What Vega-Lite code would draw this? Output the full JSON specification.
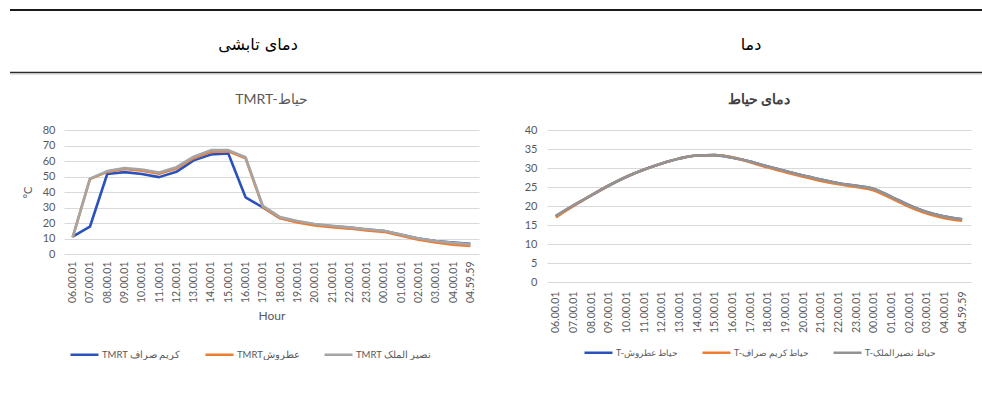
{
  "$schema": "https://vega.github.io/schema/vega-lite/v6.json",
  "background": "white",
  "padding": {"left": 8, "top": 0, "right": 0, "bottom": 0},
  "config": {
    "view": {"stroke": null},
    "font": "Lato",
    "axis": {"labelColor": "#595959", "titleColor": "#595959", "gridColor": "#D9D9D9", "labelFontSize": 11, "titleFontWeight": "normal", "titleFontSize": 12},
    "legend": {"labelColor": "#595959", "labelFontSize": 9.5, "symbolType": "stroke", "symbolSize": 784, "symbolStrokeWidth": 2.5, "labelOffset": 2, "columnPadding": 19, "direction": "horizontal", "title": null, "padding": 0}
  },
  "spacing": 18,
  "vconcat": [
    {
      "width": 920,
      "height": 75,
      "resolve": {"scale": {"x": "independent"}, "axis": {"x": "independent"}},
      "layer": [
        {
          "data": {"values": [{"label": "دمای تابشی", "col": "radiant"}, {"label": "دما", "col": "air"}]},
          "mark": {"type": "text", "font": "DejaVu Sans", "fontSize": 16, "fontWeight": "normal", "color": "#000000", "baseline": "middle", "align": "center"},
          "encoding": {
            "x": {"field": "col", "type": "nominal", "scale": {"type": "point", "padding": 0, "domain": ["radiant", "air"], "range": [194, 687]}, "axis": null},
            "y": {"datum": 45, "type": "quantitative", "scale": {"domain": [75, 0], "nice": false, "zero": false}, "axis": null},
            "text": {"field": "label"}
          }
        },
        {
          "data": {"values": [{"line": "top"}]},
          "mark": {"type": "rule", "color": "#1a1a1a", "strokeWidth": 2.2},
          "encoding": {
            "x": {"datum": 0, "type": "quantitative", "scale": {"domain": [0, 974], "range": [-54, 920], "nice": false, "zero": false}, "axis": null},
            "x2": {"datum": 974},
            "y": {"datum": 10, "type": "quantitative", "axis": null}
          }
        },
        {
          "data": {"values": [{"line": "bottom"}]},
          "mark": {"type": "rule", "color": "#2a2a2a", "strokeWidth": 1.3},
          "encoding": {
            "x": {"datum": 0, "type": "quantitative", "scale": {"domain": [0, 974], "range": [-54, 920], "nice": false, "zero": false}, "axis": null},
            "x2": {"datum": 974},
            "y": {"datum": 72.5, "type": "quantitative", "axis": null}
          }
        },
        {
          "data": {"values": [{"line": "bottom2"}]},
          "mark": {"type": "rule", "color": "#c4c4c4", "strokeWidth": 1},
          "encoding": {
            "x": {"datum": 0, "type": "quantitative", "scale": {"domain": [0, 974], "range": [-54, 920], "nice": false, "zero": false}, "axis": null},
            "x2": {"datum": 974},
            "y": {"datum": 74, "type": "quantitative", "axis": null}
          }
        }
      ]
    },
    {
      "spacing": 45,
      "resolve": {"scale": {"color": "independent"}, "legend": {"color": "independent"}},
      "hconcat": [
        {
          "width": 415,
          "height": 124,
          "title": {"text": "TMRT-حیاط", "fontSize": 14, "fontWeight": "normal", "color": "#595959", "offset": 3, "baseline": "bottom", "font": "Lato"},
          "data": {"values": [
            {"hour": "06.00.01", "series": "TMRT کریم صراف", "value": 11.2},
            {"hour": "07.00.01", "series": "TMRT کریم صراف", "value": 17.6},
            {"hour": "08.00.01", "series": "TMRT کریم صراف", "value": 51.6},
            {"hour": "09.00.01", "series": "TMRT کریم صراف", "value": 52.8},
            {"hour": "10.00.01", "series": "TMRT کریم صراف", "value": 51.6},
            {"hour": "11.00.01", "series": "TMRT کریم صراف", "value": 49.6},
            {"hour": "12.00.01", "series": "TMRT کریم صراف", "value": 53.0},
            {"hour": "13.00.01", "series": "TMRT کریم صراف", "value": 60.4},
            {"hour": "14.00.01", "series": "TMRT کریم صراف", "value": 64.2},
            {"hour": "15.00.01", "series": "TMRT کریم صراف", "value": 64.8},
            {"hour": "16.00.01", "series": "TMRT کریم صراف", "value": 36.6},
            {"hour": "17.00.01", "series": "TMRT کریم صراف", "value": 30.0},
            {"hour": "18.00.01", "series": "TMRT کریم صراف", "value": 23.2},
            {"hour": "19.00.01", "series": "TMRT کریم صراف", "value": 20.8},
            {"hour": "20.00.01", "series": "TMRT کریم صراف", "value": 19.0},
            {"hour": "21.00.01", "series": "TMRT کریم صراف", "value": 17.8},
            {"hour": "22.00.01", "series": "TMRT کریم صراف", "value": 17.0},
            {"hour": "23.00.01", "series": "TMRT کریم صراف", "value": 15.8},
            {"hour": "00.00.01", "series": "TMRT کریم صراف", "value": 14.8},
            {"hour": "01.00.01", "series": "TMRT کریم صراف", "value": 12.4},
            {"hour": "02.00.01", "series": "TMRT کریم صراف", "value": 10.0},
            {"hour": "03.00.01", "series": "TMRT کریم صراف", "value": 8.4},
            {"hour": "04.00.01", "series": "TMRT کریم صراف", "value": 7.4},
            {"hour": "04.59.59", "series": "TMRT کریم صراف", "value": 6.6},
            {"hour": "06.00.01", "series": "TMRTعطروش", "value": 10.8},
            {"hour": "07.00.01", "series": "TMRTعطروش", "value": 48.3},
            {"hour": "08.00.01", "series": "TMRTعطروش", "value": 53.0},
            {"hour": "09.00.01", "series": "TMRTعطروش", "value": 54.8},
            {"hour": "10.00.01", "series": "TMRTعطروش", "value": 53.8},
            {"hour": "11.00.01", "series": "TMRTعطروش", "value": 51.8},
            {"hour": "12.00.01", "series": "TMRTعطروش", "value": 55.2},
            {"hour": "13.00.01", "series": "TMRTعطروش", "value": 61.8},
            {"hour": "14.00.01", "series": "TMRTعطروش", "value": 66.0},
            {"hour": "15.00.01", "series": "TMRTعطروش", "value": 66.2},
            {"hour": "16.00.01", "series": "TMRTعطروش", "value": 61.8},
            {"hour": "17.00.01", "series": "TMRTعطروش", "value": 30.2},
            {"hour": "18.00.01", "series": "TMRTعطروش", "value": 23.0},
            {"hour": "19.00.01", "series": "TMRTعطروش", "value": 20.4},
            {"hour": "20.00.01", "series": "TMRTعطروش", "value": 18.4},
            {"hour": "21.00.01", "series": "TMRTعطروش", "value": 17.3},
            {"hour": "22.00.01", "series": "TMRTعطروش", "value": 16.4},
            {"hour": "23.00.01", "series": "TMRTعطروش", "value": 15.2},
            {"hour": "00.00.01", "series": "TMRTعطروش", "value": 14.3},
            {"hour": "01.00.01", "series": "TMRTعطروش", "value": 11.8},
            {"hour": "02.00.01", "series": "TMRTعطروش", "value": 9.2},
            {"hour": "03.00.01", "series": "TMRTعطروش", "value": 7.4},
            {"hour": "04.00.01", "series": "TMRTعطروش", "value": 6.0},
            {"hour": "04.59.59", "series": "TMRTعطروش", "value": 5.2},
            {"hour": "06.00.01", "series": "TMRT نصیر الملک", "value": 10.8},
            {"hour": "07.00.01", "series": "TMRT نصیر الملک", "value": 48.6},
            {"hour": "08.00.01", "series": "TMRT نصیر الملک", "value": 53.5},
            {"hour": "09.00.01", "series": "TMRT نصیر الملک", "value": 55.5},
            {"hour": "10.00.01", "series": "TMRT نصیر الملک", "value": 54.5},
            {"hour": "11.00.01", "series": "TMRT نصیر الملک", "value": 52.6},
            {"hour": "12.00.01", "series": "TMRT نصیر الملک", "value": 56.0},
            {"hour": "13.00.01", "series": "TMRT نصیر الملک", "value": 62.8},
            {"hour": "14.00.01", "series": "TMRT نصیر الملک", "value": 67.0},
            {"hour": "15.00.01", "series": "TMRT نصیر الملک", "value": 67.0},
            {"hour": "16.00.01", "series": "TMRT نصیر الملک", "value": 62.4},
            {"hour": "17.00.01", "series": "TMRT نصیر الملک", "value": 31.0},
            {"hour": "18.00.01", "series": "TMRT نصیر الملک", "value": 23.8},
            {"hour": "19.00.01", "series": "TMRT نصیر الملک", "value": 21.3},
            {"hour": "20.00.01", "series": "TMRT نصیر الملک", "value": 19.3},
            {"hour": "21.00.01", "series": "TMRT نصیر الملک", "value": 18.2},
            {"hour": "22.00.01", "series": "TMRT نصیر الملک", "value": 17.2},
            {"hour": "23.00.01", "series": "TMRT نصیر الملک", "value": 16.0},
            {"hour": "00.00.01", "series": "TMRT نصیر الملک", "value": 15.0},
            {"hour": "01.00.01", "series": "TMRT نصیر الملک", "value": 12.6},
            {"hour": "02.00.01", "series": "TMRT نصیر الملک", "value": 10.0},
            {"hour": "03.00.01", "series": "TMRT نصیر الملک", "value": 8.4},
            {"hour": "04.00.01", "series": "TMRT نصیر الملک", "value": 7.2},
            {"hour": "04.59.59", "series": "TMRT نصیر الملک", "value": 6.4}
          ]},
          "mark": {"type": "line", "strokeWidth": 2.6, "strokeJoin": "round"},
          "encoding": {
            "x": {"field": "hour", "type": "ordinal", "sort": null, "scale": {"type": "point", "padding": 0.5},
                  "axis": {"title": "Hour", "labelAngle": -90, "labelFontSize": 10.5, "ticks": false, "domain": false, "grid": false, "labelPadding": 7, "titlePadding": 8}},
            "y": {"field": "value", "type": "quantitative", "scale": {"domain": [0, 80]},
                  "axis": {"title": "°C", "values": [0, 10, 20, 30, 40, 50, 60, 70, 80], "ticks": false, "domain": false, "labelPadding": 9, "titlePadding": 9, "titleFontSize": 11}},
            "color": {"field": "series", "type": "nominal",
                      "scale": {"domain": ["TMRT کریم صراف", "TMRTعطروش", "TMRT نصیر الملک"], "range": ["#2A52BE", "#ED7D31", "#A5A5A5"]},
                      "legend": {"orient": "none", "legendX": 5, "legendY": 209, "columns": 3}}
          }
        },
        {
          "width": 424,
          "height": 152,
          "title": {"text": "دمای حیاط", "fontSize": 14, "fontWeight": "bold", "color": "#404040", "offset": 3, "baseline": "bottom"},
          "data": {"values": [
            {"hour": "06.00.01", "series": "T-حیاط عطروش", "value": 17.3},
            {"hour": "07.00.01", "series": "T-حیاط عطروش", "value": 20.1},
            {"hour": "08.00.01", "series": "T-حیاط عطروش", "value": 22.8},
            {"hour": "09.00.01", "series": "T-حیاط عطروش", "value": 25.4},
            {"hour": "10.00.01", "series": "T-حیاط عطروش", "value": 27.7},
            {"hour": "11.00.01", "series": "T-حیاط عطروش", "value": 29.6},
            {"hour": "12.00.01", "series": "T-حیاط عطروش", "value": 31.2},
            {"hour": "13.00.01", "series": "T-حیاط عطروش", "value": 32.5},
            {"hour": "14.00.01", "series": "T-حیاط عطروش", "value": 33.3},
            {"hour": "15.00.01", "series": "T-حیاط عطروش", "value": 33.4},
            {"hour": "16.00.01", "series": "T-حیاط عطروش", "value": 32.7},
            {"hour": "17.00.01", "series": "T-حیاط عطروش", "value": 31.7},
            {"hour": "18.00.01", "series": "T-حیاط عطروش", "value": 30.4},
            {"hour": "19.00.01", "series": "T-حیاط عطروش", "value": 29.2},
            {"hour": "20.00.01", "series": "T-حیاط عطروش", "value": 28.0},
            {"hour": "21.00.01", "series": "T-حیاط عطروش", "value": 27.0},
            {"hour": "22.00.01", "series": "T-حیاط عطروش", "value": 26.0},
            {"hour": "23.00.01", "series": "T-حیاط عطروش", "value": 25.3},
            {"hour": "00.00.01", "series": "T-حیاط عطروش", "value": 24.5},
            {"hour": "01.00.01", "series": "T-حیاط عطروش", "value": 22.4},
            {"hour": "02.00.01", "series": "T-حیاط عطروش", "value": 20.2},
            {"hour": "03.00.01", "series": "T-حیاط عطروش", "value": 18.4},
            {"hour": "04.00.01", "series": "T-حیاط عطروش", "value": 17.2},
            {"hour": "04.59.59", "series": "T-حیاط عطروش", "value": 16.5},
            {"hour": "06.00.01", "series": "T-حیاط کریم صراف", "value": 17.0},
            {"hour": "07.00.01", "series": "T-حیاط کریم صراف", "value": 20.0},
            {"hour": "08.00.01", "series": "T-حیاط کریم صراف", "value": 22.8},
            {"hour": "09.00.01", "series": "T-حیاط کریم صراف", "value": 25.4},
            {"hour": "10.00.01", "series": "T-حیاط کریم صراف", "value": 27.7},
            {"hour": "11.00.01", "series": "T-حیاط کریم صراف", "value": 29.6},
            {"hour": "12.00.01", "series": "T-حیاط کریم صراف", "value": 31.2},
            {"hour": "13.00.01", "series": "T-حیاط کریم صراف", "value": 32.5},
            {"hour": "14.00.01", "series": "T-حیاط کریم صراف", "value": 33.3},
            {"hour": "15.00.01", "series": "T-حیاط کریم صراف", "value": 33.4},
            {"hour": "16.00.01", "series": "T-حیاط کریم صراف", "value": 32.8},
            {"hour": "17.00.01", "series": "T-حیاط کریم صراف", "value": 31.5},
            {"hour": "18.00.01", "series": "T-حیاط کریم صراف", "value": 30.1},
            {"hour": "19.00.01", "series": "T-حیاط کریم صراف", "value": 28.9},
            {"hour": "20.00.01", "series": "T-حیاط کریم صراف", "value": 27.7},
            {"hour": "21.00.01", "series": "T-حیاط کریم صراف", "value": 26.6},
            {"hour": "22.00.01", "series": "T-حیاط کریم صراف", "value": 25.7},
            {"hour": "23.00.01", "series": "T-حیاط کریم صراف", "value": 25.0},
            {"hour": "00.00.01", "series": "T-حیاط کریم صراف", "value": 24.1},
            {"hour": "01.00.01", "series": "T-حیاط کریم صراف", "value": 22.0},
            {"hour": "02.00.01", "series": "T-حیاط کریم صراف", "value": 19.8},
            {"hour": "03.00.01", "series": "T-حیاط کریم صراف", "value": 18.0},
            {"hour": "04.00.01", "series": "T-حیاط کریم صراف", "value": 16.8},
            {"hour": "04.59.59", "series": "T-حیاط کریم صراف", "value": 16.1},
            {"hour": "06.00.01", "series": "T-حیاط نصیرالملک", "value": 17.4},
            {"hour": "07.00.01", "series": "T-حیاط نصیرالملک", "value": 20.2},
            {"hour": "08.00.01", "series": "T-حیاط نصیرالملک", "value": 22.8},
            {"hour": "09.00.01", "series": "T-حیاط نصیرالملک", "value": 25.4},
            {"hour": "10.00.01", "series": "T-حیاط نصیرالملک", "value": 27.7},
            {"hour": "11.00.01", "series": "T-حیاط نصیرالملک", "value": 29.6},
            {"hour": "12.00.01", "series": "T-حیاط نصیرالملک", "value": 31.2},
            {"hour": "13.00.01", "series": "T-حیاط نصیرالملک", "value": 32.5},
            {"hour": "14.00.01", "series": "T-حیاط نصیرالملک", "value": 33.3},
            {"hour": "15.00.01", "series": "T-حیاط نصیرالملک", "value": 33.4},
            {"hour": "16.00.01", "series": "T-حیاط نصیرالملک", "value": 32.7},
            {"hour": "17.00.01", "series": "T-حیاط نصیرالملک", "value": 31.7},
            {"hour": "18.00.01", "series": "T-حیاط نصیرالملک", "value": 30.4},
            {"hour": "19.00.01", "series": "T-حیاط نصیرالملک", "value": 29.2},
            {"hour": "20.00.01", "series": "T-حیاط نصیرالملک", "value": 28.0},
            {"hour": "21.00.01", "series": "T-حیاط نصیرالملک", "value": 27.0},
            {"hour": "22.00.01", "series": "T-حیاط نصیرالملک", "value": 26.0},
            {"hour": "23.00.01", "series": "T-حیاط نصیرالملک", "value": 25.3},
            {"hour": "00.00.01", "series": "T-حیاط نصیرالملک", "value": 24.5},
            {"hour": "01.00.01", "series": "T-حیاط نصیرالملک", "value": 22.4},
            {"hour": "02.00.01", "series": "T-حیاط نصیرالملک", "value": 20.2},
            {"hour": "03.00.01", "series": "T-حیاط نصیرالملک", "value": 18.4},
            {"hour": "04.00.01", "series": "T-حیاط نصیرالملک", "value": 17.2},
            {"hour": "04.59.59", "series": "T-حیاط نصیرالملک", "value": 16.5}
          ]},
          "mark": {"type": "line", "strokeWidth": 2.6, "strokeJoin": "round", "interpolate": "monotone"},
          "encoding": {
            "x": {"field": "hour", "type": "ordinal", "sort": null, "scale": {"type": "point", "padding": 0.5},
                  "axis": {"title": null, "labelAngle": -90, "labelFontSize": 10.5, "ticks": false, "domain": false, "grid": false, "labelPadding": 9}},
            "y": {"field": "value", "type": "quantitative", "scale": {"domain": [0, 40]},
                  "axis": {"title": null, "values": [0, 5, 10, 15, 20, 25, 30, 35, 40], "ticks": false, "domain": false, "labelPadding": 10}},
            "color": {"field": "series", "type": "nominal",
                      "scale": {"domain": ["T-حیاط عطروش", "T-حیاط کریم صراف", "T-حیاط نصیرالملک"], "range": ["#2A52BE", "#ED7D31", "#939393"]},
                      "legend": {"orient": "none", "legendX": 36, "legendY": 207, "columns": 3, "labelFontSize": 8.8, "columnPadding": 18}}
          }
        }
      ]
    }
  ]
}
